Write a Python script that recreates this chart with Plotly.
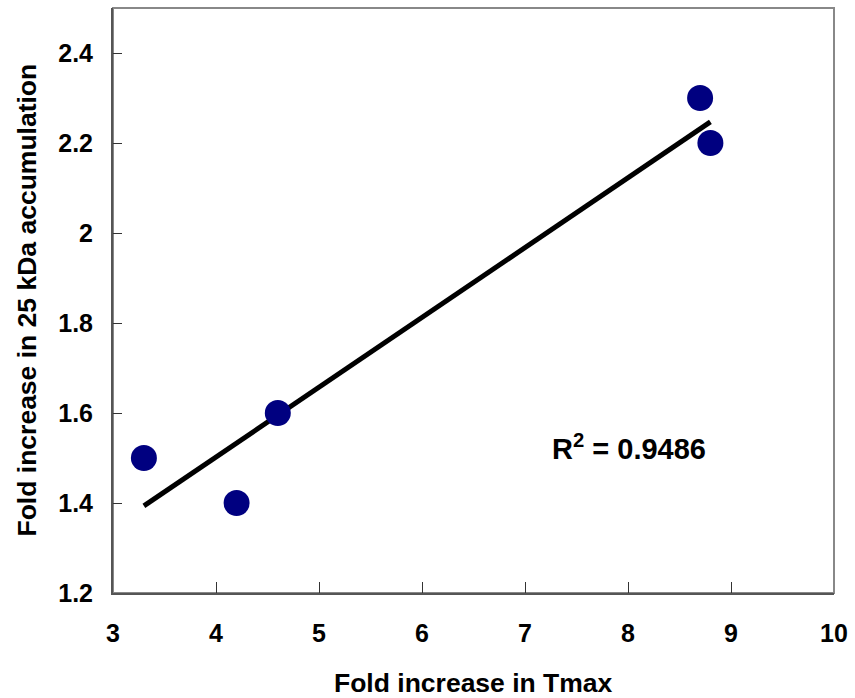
import numpy as np
import plotly.graph_objects as go

# Fold increases measured for each sample
tmax_fold = [3.3, 4.2, 4.6, 8.7, 8.8]
kda25_fold = [1.5, 1.4, 1.6, 2.3, 2.2]

x_ticks = [3, 4, 5, 6, 7, 8, 9, 10]
y_ticks = [1.2, 1.4, 1.6, 1.8, 2.0, 2.2, 2.4]

# Least-squares trend line over the span of the data
slope, intercept = np.polyfit(tmax_fold, kda25_fold, 1)
fit_x = np.array([min(tmax_fold), max(tmax_fold)])
fit_y = slope * fit_x + intercept
pred = slope * np.array(tmax_fold) + intercept
ss_res = np.sum((np.array(kda25_fold) - pred) ** 2)
ss_tot = np.sum((np.array(kda25_fold) - np.mean(kda25_fold)) ** 2)
r2 = 1 - ss_res / ss_tot

FONT = "Liberation Sans, Arial, sans-serif"
TICK_FONT = dict(size=25, family=FONT, weight="bold", color="black")
TITLE_FONT = dict(size=26.5, family=FONT, weight="bold", color="black")

fig = go.Figure()
fig.add_trace(go.Scatter(
    x=fit_x, y=fit_y, mode="lines",
    line=dict(color="black", width=5), hoverinfo="skip",
))
fig.add_trace(go.Scatter(
    x=tmax_fold, y=kda25_fold, mode="markers",
    marker=dict(color="#000080", size=26, line=dict(width=0)),
))

fig.update_layout(
    width=855, height=698,
    margin=dict(l=113, r=21, t=8, b=105),
    paper_bgcolor="white", plot_bgcolor="white",
    showlegend=False,
    font=dict(family=FONT, color="black"),
    xaxis=dict(
        range=[3, 10], tickvals=x_ticks, ticks="inside", ticklen=11,
        tickwidth=1, tickcolor="#333", showline=True, linecolor="#555",
        linewidth=2, showgrid=False, zeroline=False,
        tickfont=TICK_FONT, ticklabelstandoff=17,
    ),
    yaxis=dict(
        range=[1.2, 2.5], tickvals=y_ticks, ticks="inside", ticklen=9,
        tickwidth=1, tickcolor="#333", showline=True, linecolor="#555",
        linewidth=2, showgrid=False, zeroline=False,
        tickfont=TICK_FONT, ticklabelstandoff=13,
    ),
    shapes=[dict(
        type="rect", xref="paper", yref="paper", x0=0, y0=0, x1=1, y1=1,
        line=dict(color="#888", width=2), layer="below",
    )],
    annotations=[
        dict(text="Fold increase in Tmax", xref="paper", yref="paper",
             x=0.5, y=0, xanchor="center", yanchor="middle", yshift=-90,
             showarrow=False, font=TITLE_FONT),
        dict(text="Fold increase in 25 kDa accumulation", xref="paper",
             yref="paper", x=0, y=0.5, xanchor="center", yanchor="middle",
             xshift=-87, textangle=-90, showarrow=False, font=TITLE_FONT),
        dict(text=f"R<sup>2</sup> = {r2:.4f}", xref="x", yref="y",
             x=8.01, y=1.525, xanchor="center", yanchor="middle",
             showarrow=False,
             font=dict(size=29, family=FONT, weight="bold", color="black")),
    ],
)

fig.write_html("out.html")
